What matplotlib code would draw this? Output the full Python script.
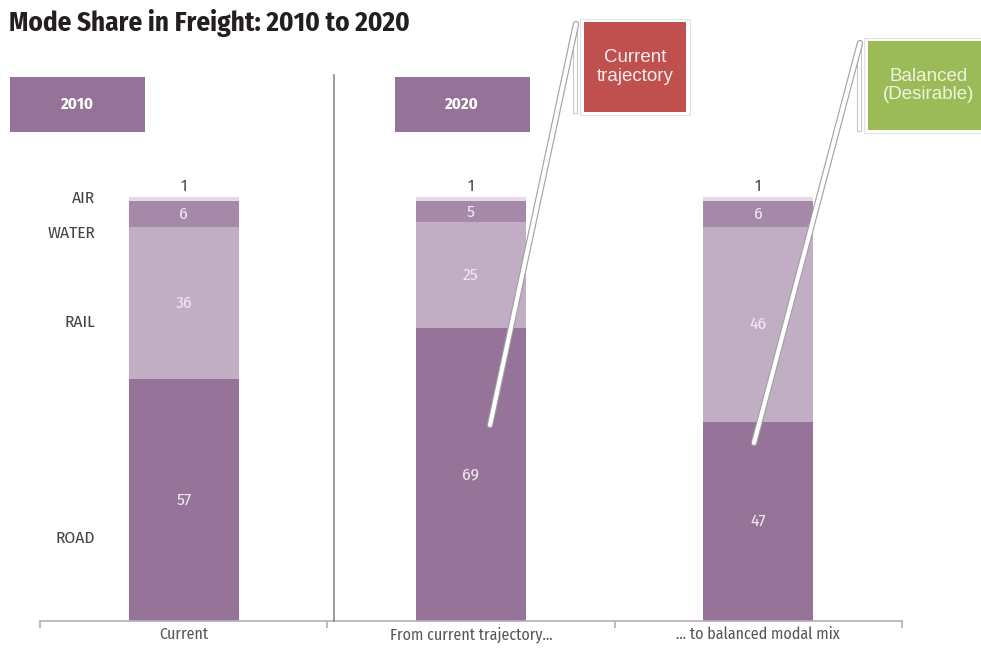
import numpy as np
import matplotlib
matplotlib.use("Agg")
import matplotlib.pyplot as plt
import matplotlib.patheffects as pe
from matplotlib.patches import Rectangle

## data
scenarios = ["Current", "From current trajectory...", "... to balanced modal mix"]
modes = ["ROAD", "RAIL", "WATER", "AIR"]
road = [57, 69, 47]
rail = [36, 25, 46]
water = [6, 5, 6]
air = [1, 1, 1]

mode_colors = ["#967399", "#c1aec5", "#a688a9", "#e4dbe6"]

W, H = 981, 648
fig = plt.figure(figsize=(W / 100, H / 100), dpi=100, facecolor="white")
narrow = ["Fira Sans Condensed", "DejaVu Sans"]


def fx(x):
    return x / W


def fy(y):
    return 1 - y / H


# main axes: baseline at y=621 px, 100 % at y=197 px
ax = fig.add_axes([fx(40), fy(621), 862 / W, 424 / H])
ax.set_xlim(-0.5, 2.5)
ax.set_ylim(0, 100)
ax.patch.set_alpha(0)
for s in ["top", "left", "right"]:
    ax.spines[s].set_visible(False)
ax.spines["bottom"].set_color("#b9a9bc")
ax.spines["bottom"].set_linewidth(1.2)
ax.set_yticks([])
ax.set_xticks([-0.5, 0.5, 1.5, 2.5])
ax.set_xticklabels([])
ax.tick_params(axis="x", which="major", length=5, color="#b9a9bc", width=1.2)
ax.set_xticks(range(3), minor=True)
ax.set_xticklabels(scenarios, minor=True, family=narrow, fontsize=11.5, color="#555555")
ax.tick_params(axis="x", which="minor", length=0, pad=4)

x = np.arange(3)
bw = 0.383
bottom = np.zeros(3)
series = [road, rail, water, air]
for vals, col in zip(series, mode_colors):
    vals = np.array(vals)
    ax.bar(x, vals, bw, bottom=bottom, color=col, edgecolor="none", zorder=2)
    if col != mode_colors[3]:
        for xi, b, v in zip(x, bottom, vals):
            ax.text(xi, b + v / 2, str(v), ha="center", va="center",
                    color="#f0e8f0", fontsize=12.5, family=narrow)
    bottom = bottom + vals

# air share is too thin to label inside, put it on top
for xi, b, v in zip(x, bottom, air):
    ax.annotate(str(v), (xi, b), xytext=(0, 2), textcoords="offset points",
                ha="center", va="bottom", fontsize=12, color="#444444", family=narrow)

# mode names on the left
for name, ypx in zip(modes, [538, 322, 233, 198]):
    fig.text(fx(95), fy(ypx), name, ha="right", va="center", fontsize=12.5,
             color="#444444", family=narrow)

# divider between the 2010 and 2020 panels
fig.add_artist(plt.Line2D([fx(334), fx(334)], [fy(75), fy(621)],
                          color="#8a8a8a", lw=1.2))

# year header boxes
for label, x0 in [("2010", 10), ("2020", 395)]:
    fig.add_artist(Rectangle((fx(x0), fy(132)), 135 / W, 55 / H,
                             facecolor="#957399", edgecolor="none"))
    fig.text(fx(x0 + 67), fy(104), label, ha="center", va="center",
             fontsize=12, fontweight="bold", color="white", family=narrow)

fig.text(fx(9), fy(23), "Mode Share in Freight: 2010 to 2020", ha="left", va="center",
         fontsize=19.5, fontweight="bold", color="#231f20", family=narrow)


# callout boxes with pointer lines
def callout(x0, y0, x1, y1, color, text, tcolor, tip):
    shadow = Rectangle((fx(x0 + 2), fy(y1 + 4)), (x1 - x0) / W, (y1 - y0) / H,
                       facecolor="#cfcfcf", edgecolor="none", alpha=0.7)
    fig.add_artist(shadow)
    frame = Rectangle((fx(x0 - 4), fy(y1 + 3)), (x1 - x0 + 8) / W, (y1 - y0 + 6) / H,
                      facecolor="white", edgecolor="#e2e2e2", lw=0.8)
    fig.add_artist(frame)
    fig.add_artist(Rectangle((fx(x0), fy(y1)), (x1 - x0) / W, (y1 - y0) / H,
                             facecolor=color, edgecolor="none"))
    # thin side strip
    fig.add_artist(Rectangle((fx(x0 - 11), fy(y1 + 1)), 4 / W, (y1 - y0 - 2) / H,
                             facecolor="white", edgecolor="#c8c8c8", lw=0.8))
    ln = plt.Line2D([fx(x0 - 8), fx(tip[0])], [fy(y0 + 2), fy(tip[1])],
                    color="white", lw=3.0, solid_capstyle="round")
    ln.set_path_effects([pe.Stroke(linewidth=4.6, foreground="#a0a0a0"), pe.Normal()])
    fig.add_artist(ln)
    fig.text(fx((x0 + x1) / 2), fy((y0 + y1) / 2), text, ha="center", va="center",
             fontsize=13.5, color=tcolor, family=["Liberation Sans", "DejaVu Sans"],
             linespacing=1.1)


callout(584, 22, 686, 112, "#c0504d", "Current\ntrajectory", "#f8eeee", (490, 425))
callout(868, 41, 990, 130, "#9bbb59", "Balanced\n(Desirable)", "#eef5dc", (754, 443))

fig.savefig("out.png", dpi=100, facecolor="white")
